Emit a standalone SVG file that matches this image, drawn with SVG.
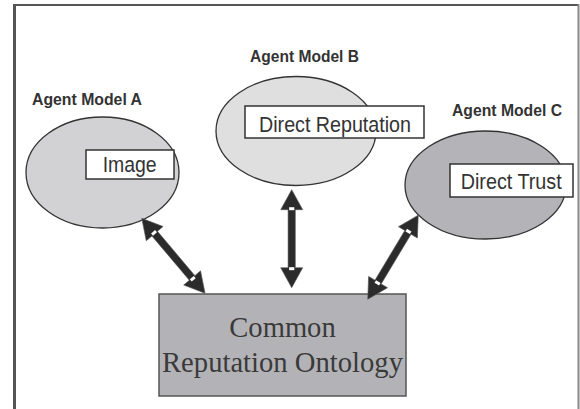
<svg xmlns="http://www.w3.org/2000/svg" xmlns:xlink="http://www.w3.org/1999/xlink" width="580" height="409" viewBox="0 0 580 409">
<style>
.agent{font-family:"Liberation Sans",Arial,sans-serif;font-weight:bold;font-size:17px;fill:#333}
.ell{stroke:#333;stroke-width:1.3}
.box{fill:#fff;stroke:#333;stroke-width:1.5}
.btxt{font-family:"Liberation Sans",Arial,sans-serif;font-size:22px;fill:#333}
.otxt{font-family:"Liberation Serif","Times New Roman",serif;font-size:28.6px;fill:#3a3a3a;text-anchor:middle}
</style>
<defs>
<g id="dbl">
<path d="M -49 0 L -29 -11 L -29 -3.6 L 29 -3.6 L 29 -11 L 49 0 L 29 11 L 29 3.6 L -29 3.6 L -29 11 Z" fill="#2b2b2b" stroke="#555" stroke-width="0.6"/>
<rect x="-31.5" y="-2.6" width="3" height="5.2" fill="#fff"/>
<rect x="28.5" y="-2.6" width="3" height="5.2" fill="#fff"/>
</g>
</defs>
<rect width="580" height="409" fill="#fff"/>
<g id="frame">
<line x1="14.5" y1="4" x2="14.5" y2="409" stroke="#555" stroke-width="3"/>
<line x1="13" y1="5" x2="579" y2="5" stroke="#555" stroke-width="2"/>
<line x1="578.5" y1="4" x2="578.5" y2="409" stroke="#888" stroke-width="2"/>
</g>
<g id="agentA">
<text class="agent" x="32" y="105" textLength="110" lengthAdjust="spacingAndGlyphs">Agent Model A</text>
<ellipse class="ell" cx="102.5" cy="172.5" rx="76.5" ry="55.5" fill="#d2d2d4"/>
<rect class="box" x="86" y="150" width="88" height="29"/>
<text class="btxt" x="102.7" y="172" textLength="54" lengthAdjust="spacingAndGlyphs">Image</text>
</g>
<g id="agentB">
<text class="agent" x="250" y="62" textLength="109" lengthAdjust="spacingAndGlyphs">Agent Model B</text>
<ellipse class="ell" cx="296" cy="131" rx="80" ry="54.5" fill="#dfdfe0"/>
<rect class="box" x="245" y="106" width="179" height="32"/>
<text class="btxt" x="259" y="132" textLength="152" lengthAdjust="spacingAndGlyphs">Direct Reputation</text>
</g>
<g id="agentC">
<text class="agent" x="452" y="116" textLength="110" lengthAdjust="spacingAndGlyphs">Agent Model C</text>
<ellipse class="ell" cx="485.5" cy="185" rx="80.5" ry="54" fill="#b4b4b8"/>
<rect class="box" x="450" y="164" width="123" height="33"/>
<text class="btxt" x="460.7" y="189" textLength="101" lengthAdjust="spacingAndGlyphs">Direct Trust</text>
</g>
<g id="ontology">
<rect x="159" y="294" width="247" height="102" fill="#b3b3b7" stroke="#555" stroke-width="1.5"/>
<text class="otxt" x="282.5" y="337">Common</text>
<text class="otxt" x="282.5" y="372" textLength="241" lengthAdjust="spacingAndGlyphs">Reputation Ontology</text>
</g>
<g id="connectors">
<use xlink:href="#dbl" transform="translate(173.4,255.8) rotate(49.8)"/>
<use xlink:href="#dbl" transform="translate(291.7,238.7) rotate(90)"/>
<use xlink:href="#dbl" transform="translate(393,257.2) rotate(121)"/>
</g>
</svg>
